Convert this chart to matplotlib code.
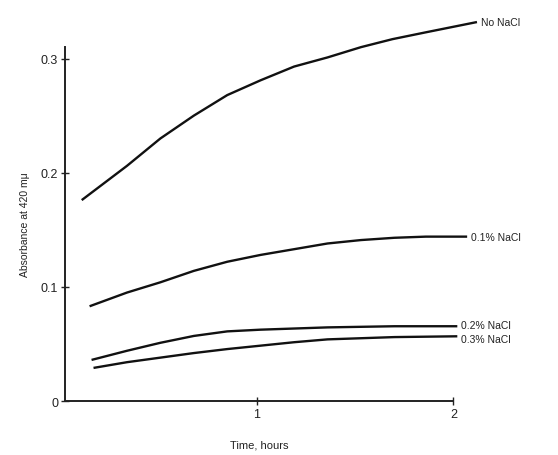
import matplotlib

matplotlib.use("Agg")
import matplotlib.pyplot as plt

# values (time in hours, absorbance at 420 mμ)
T_NONE = [0.11, 0.34, 0.51, 0.68, 0.85, 1.02, 1.19, 1.36, 1.53, 1.69, 1.86, 2.12]
A_NONE = [0.176, 0.206, 0.230, 0.250, 0.268, 0.281, 0.293, 0.301, 0.310, 0.317, 0.323, 0.332]

T_01 = [0.15, 0.34, 0.51, 0.68, 0.85, 1.02, 1.19, 1.36, 1.53, 1.70, 1.86, 2.07]
A_01 = [0.083, 0.095, 0.104, 0.114, 0.122, 0.128, 0.133, 0.138, 0.141, 0.143, 0.144, 0.144]

T_02 = [0.16, 0.34, 0.51, 0.68, 0.85, 1.02, 1.36, 1.70, 2.02]
A_02 = [0.036, 0.044, 0.051, 0.057, 0.061, 0.0625, 0.0645, 0.0655, 0.0655]

T_03 = [0.17, 0.34, 0.51, 0.68, 0.85, 1.02, 1.19, 1.36, 1.53, 1.70, 2.02]
A_03 = [0.029, 0.034, 0.038, 0.042, 0.0455, 0.0485, 0.0515, 0.054, 0.055, 0.056, 0.0567]

LABELS = ["No NaCl", "0.1% NaCl", "0.2% NaCl", "0.3% NaCl"]
SERIES = [(T_NONE, A_NONE), (T_01, A_01), (T_02, A_02), (T_03, A_03)]
LABEL_DY = [0, 0, 0.0015, -0.0025]

YTICKS = [0, 0.1, 0.2, 0.3]
YTICKLABELS = ["0", "0.1", "0.2", "0.3"]
XTICKS = [1, 2]
XTICKLABELS = ["1", "2"]

plt.rcParams.update({"font.family": "Liberation Sans", "font.size": 8})

fig = plt.figure(figsize=(5.58, 4.56), dpi=100)
ax = fig.add_axes([0.1165, 0.1184, 0.696, 0.776])

for (t, a), lab, dy in zip(SERIES, LABELS, LABEL_DY):
    ax.plot(t, a, color="#111111", lw=1.7, clip_on=False, solid_capstyle="butt",
            solid_joinstyle="round")
    ax.text(t[-1] + 0.02, a[-1] + dy, lab, va="center", ha="left", fontsize=7.5,
            color="#222222")

ax.set_xlim(0.025, 2.0)
ax.set_ylim(0, 0.31)
ax.set_xticks(XTICKS)
ax.set_xticklabels(XTICKLABELS)
ax.set_yticks(YTICKS)
ax.set_yticklabels(YTICKLABELS)
ax.tick_params(direction="inout", length=6, width=1.0, labelsize=9, colors="#222222",
               pad=2)
for side in ("top", "right"):
    ax.spines[side].set_visible(False)
for side in ("left", "bottom"):
    ax.spines[side].set_linewidth(1.4)
    ax.spines[side].set_color("#222222")

ax.set_xlabel("Time, hours", fontsize=8, labelpad=14, color="#222222")
ax.set_ylabel("Absorbance at 420 mμ", fontsize=7.5, labelpad=8, color="#222222")

fig.savefig("out.png", dpi=100)
